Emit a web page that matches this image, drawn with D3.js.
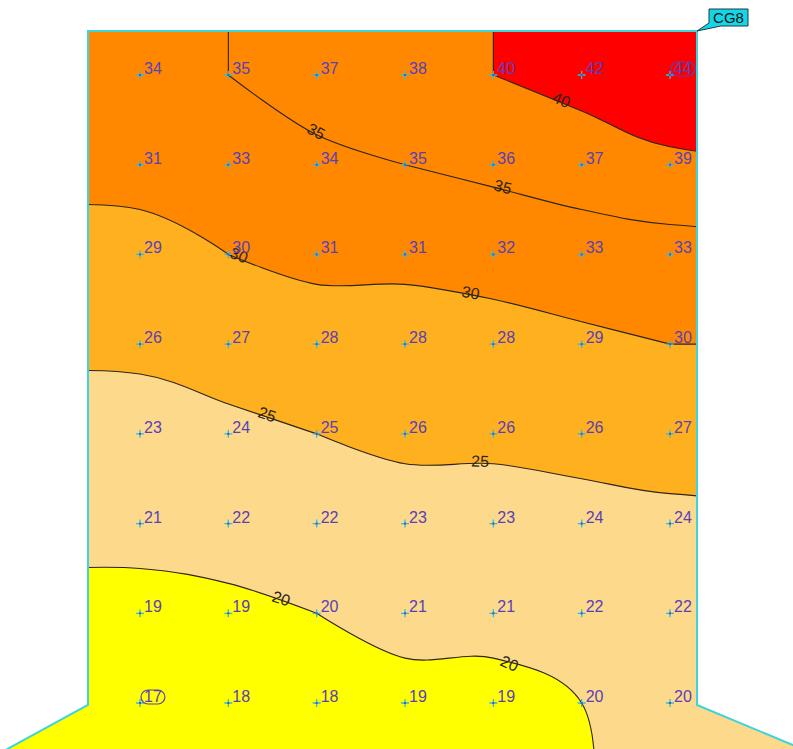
<!DOCTYPE html>
<html>
<head>
<meta charset="utf-8">
<script src="https://cdn.jsdelivr.net/npm/d3@7"></script>
<style>
  body { margin: 0; background: #fff; }
  svg { display: block; font-family: 'Liberation Sans', Arial, sans-serif; }
</style>
</head>
<body>
<svg></svg>
<script>
// measured values, top row first, left column first
const gridValues = [
  [34, 35, 37, 38, 40, 42, 44],
  [31, 33, 34, 35, 36, 37, 39],
  [29, 30, 31, 31, 32, 33, 33],
  [26, 27, 28, 28, 28, 29, 30],
  [23, 24, 25, 26, 26, 26, 27],
  [21, 22, 22, 23, 23, 24, 24],
  [19, 19, 20, 21, 21, 22, 22],
  [17, 18, 18, 19, 19, 20, 20]
]
const levels = [20, 25, 30, 35, 40]
const levelColors = ['#fdd98c', '#ffb01e', '#ff8800', '#ff8800', '#ff0000']
const baseColor = '#ffff00'
// contour labels: level + column position (grid units)
const labelLevels = [35, 40, 35, 30, 30, 25, 25, 20, 20]
const labelCols = [1.98, 4.76, 4.10, 1.11, 3.74, 1.43, 3.85, 1.59, 4.17]
const zoneName = 'CG8'

let svgWidth = 793
let svgHeight = 749
let nx = gridValues[0].length
let ny = gridValues.length

let svg = d3.select('svg')
    .attr('width', svgWidth)
    .attr('height', svgHeight)

/* edge-padded copy so the contour borders fall outside the zone */
let padded = []
for (let r = -1; r <= ny; r++) {
  let row = gridValues[Math.max(0, Math.min(ny - 1, r))]
  for (let c = -1; c <= nx; c++) padded.push(row[Math.max(0, Math.min(nx - 1, c))])
}

/* padded grid coords -> pixels (sample c sits at c + 1.5) */
let xScale = d3.scaleLinear()
    .domain([0, 1.5, nx + 0.5, nx + 2])
    .range([-300, 140, 670, 1100])
let yScale = d3.scaleLinear()
    .domain([0, 1.5, ny + 0.5, ny + 2])
    .range([-300, 75, 703, 1100])

let outline = [[88, 31], [697, 31], [697, 705], [812, 753], [0, 753], [88, 705]]

svg.append('clipPath')
    .attr('id', 'zone')
  .append('path')
    .attr('d', d3.line()(outline) + 'Z')

let contours = d3.contours()
    .size([nx + 2, ny + 2])
    .thresholds(levels)(padded)

let ringLine = d3.line().curve(d3.curveCatmullRomClosed.alpha(0.5))
function pixelRings(c) {
  let out = []
  c.coordinates.forEach(poly => poly.forEach(ring => {
    out.push(ring.slice(0, -1).map(p => [xScale(p[0]), yScale(p[1])]))
  }))
  return out
}
function contourPath(c) {
  return pixelRings(c).map(r => ringLine(r)).join('')
}

let map = svg.append('g').attr('clip-path', 'url(#zone)')

map.append('rect')
    .attr('width', svgWidth)
    .attr('height', svgHeight + 10)
    .attr('fill', baseColor)

map.selectAll('.band')
  .data(contours)
  .enter()
  .append('path')
    .classed('band', true)
    .attr('d', contourPath)
    .attr('fill', (d, i) => levelColors[i])

map.selectAll('.iso')
  .data(contours)
  .enter()
  .append('path')
    .classed('iso', true)
    .attr('d', contourPath)
    .attr('fill', 'none')
    .attr('stroke', '#2e2418')
    .attr('stroke-width', 1.1)

/* outline of the zone */
svg.append('path')
    .attr('d', d3.line()([[0, 753], [88, 705], [88, 31], [697, 31], [697, 705], [812, 753]]))
    .attr('fill', 'none')
    .attr('stroke', '#3fd3dc')
    .attr('stroke-width', 2)

/* contour labels placed on the computed lines */
function yOnLine(rings, tx) {
  for (let ring of rings) {
    let n = ring.length
    for (let k = 0; k < n; k++) {
      let a = ring[k], b = ring[(k + 1) % n]
      if (a[0] === b[0]) continue
      if ((tx - a[0]) * (tx - b[0]) > 0) continue
      let y = a[1] + (tx - a[0]) / (b[0] - a[0]) * (b[1] - a[1])
      if (y > 35 && y < 745) return y
    }
  }
  return null
}

labelLevels.forEach((lv, i) => {
  let rings = pixelRings(contours[levels.indexOf(lv)])
  let tx = xScale(labelCols[i] + 1.5)
  let y = yOnLine(rings, tx)
  if (y === null) return
  let yl = yOnLine(rings, tx - 20), yr = yOnLine(rings, tx + 20)
  let ang = (yl !== null && yr !== null) ? Math.atan2(yr - yl, 40) * 180 / Math.PI : 0
  svg.append('text')
      .attr('transform', `translate(${tx},${y}) rotate(${ang})`)
      .attr('dy', 3)
      .attr('text-anchor', 'middle')
      .attr('font-size', 16)
      .attr('fill', '#2e2418')
      .text(lv)
})

/* sample points */
let points = []
gridValues.forEach((row, r) => row.forEach((v, c) => points.push({ r: r, c: c, v: v })))
let vMin = d3.min(points, d => d.v)
let vMax = d3.max(points, d => d.v)

let pt = svg.selectAll('.pt')
  .data(points)
  .enter()
  .append('g')
    .classed('pt', true)
    .attr('transform', d => `translate(${xScale(d.c + 1.5)},${yScale(d.r + 1.5)})`)

pt.append('path')
    .attr('d', 'M-4,0H4M0,-4V4')
    .attr('stroke', '#39bcd2')
    .attr('stroke-width', 1.3)
pt.append('rect')
    .attr('x', -1).attr('y', -1)
    .attr('width', 2).attr('height', 2)
    .attr('fill', '#3a5ad0')

pt.append('text')
    .attr('x', 4)
    .attr('y', -1)
    .attr('font-size', 16)
    .attr('fill', '#5a40b8')
    .text(d => d.v)

pt.filter(d => d.v === vMin || d.v === vMax)
  .each(function () {
    let g = d3.select(this)
    let b = g.select('text').node().getBBox()
    g.insert('rect', 'text')
        .attr('x', b.x - 3)
        .attr('y', b.y + 2)
        .attr('width', b.width + 6)
        .attr('height', b.height - 3)
        .attr('rx', (b.height - 3) / 2)
        .attr('fill', 'none')
        .attr('stroke', '#5a40b8')
        .attr('stroke-width', 1.2)
  })

/* zone tag */
svg.append('path')
    .attr('d', 'M709,9H748V26H721L697,31L709,23Z')
    .attr('fill', '#13d6e6')
    .attr('stroke', '#1f3b4a')
    .attr('stroke-width', 1)
svg.append('text')
    .attr('x', 728.5)
    .attr('y', 23)
    .attr('text-anchor', 'middle')
    .attr('font-size', 15)
    .attr('fill', '#111')
    .text(zoneName)
</script>
</body>
</html>
